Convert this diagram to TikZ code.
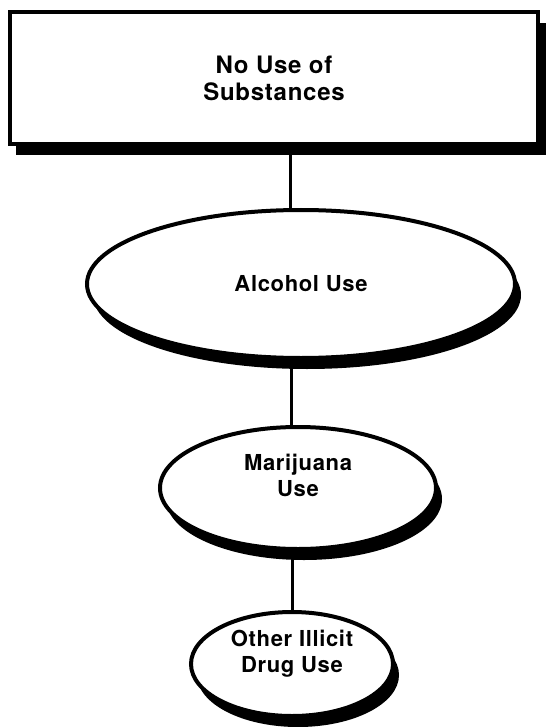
\documentclass[tikz,border=0pt]{standalone}
\usepackage{fontspec}
\setmainfont[LetterSpace=3]{TeX Gyre Heros}
\usetikzlibrary{shapes.geometric,shadows,backgrounds}

\begin{document}
\begin{tikzpicture}[x=1pt, y=-1pt,
    stage/.style={draw, line width=4pt, fill=white, align=center,
        font=\bfseries\fontsize{22}{26}\selectfont,
        drop shadow={shadow xshift=6pt, shadow yshift=-11pt, fill=black, opacity=1}},
    oval/.style={stage, ellipse, inner sep=0pt},
    link/.style={line width=3pt}]
    \useasboundingbox (0,0) rectangle (547,727);

    % Starting point
    \node[stage, rectangle, minimum width=528pt, minimum height=132pt,
        font=\bfseries\fontsize{24}{27}\selectfont,
        drop shadow={shadow xshift=8pt, shadow yshift=-11pt, fill=black, opacity=1}]
        (none) at (274,78) {No Use of\\Substances};

    % Stages of use
    \node[oval, minimum width=428pt, minimum height=148pt] (alcohol) at (301,284) {Alcohol Use};
    \node[oval, minimum width=276pt, minimum height=122pt, text depth=26pt] (marijuana) at (298,488) {Marijuana\\Use};
    \node[oval, minimum width=202pt, minimum height=104pt, text depth=26pt] (illicit) at (292,664) {Other Illicit\\Drug Use};

    % Links
    \begin{scope}[on background layer]
        \draw[link] (alcohol.98) -- (alcohol.98 |- none.south);
        \draw[link] (marijuana.96) -- (marijuana.96 |- alcohol.south);
        \draw[link] (illicit.north) -- (illicit.north |- marijuana.south);
    \end{scope}
\end{tikzpicture}
\end{document}
